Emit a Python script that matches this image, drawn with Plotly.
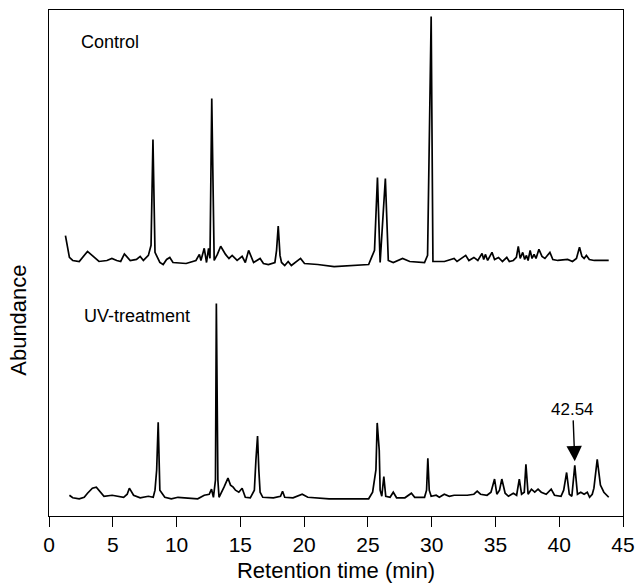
import plotly.graph_objects as go

# Retention time (min) and abundance (arbitrary units)
control_time = [1.29, 1.47, 1.60, 1.86, 2.37, 3.02, 3.53, 3.92, 4.54, 4.93, 5.31, 5.62, 5.91, 6.37, 6.86,
                7.15, 7.40, 7.79, 8.00, 8.15, 8.31, 8.69, 8.95, 9.22, 9.47, 9.72, 10.75, 11.52, 11.79, 11.91,
                12.17, 12.35, 12.51, 12.62, 12.76, 12.95, 13.20, 13.46, 13.84, 14.11, 14.36, 14.75, 15.14,
                15.39, 15.65, 15.85, 16.04, 16.55, 16.81, 17.20, 17.71, 17.84, 17.97, 18.11, 18.23, 18.48,
                18.75, 19.00, 19.72, 20.03, 21.07, 22.35, 25.06, 25.32, 25.52, 25.75, 25.96, 26.37, 26.60,
                26.99, 27.72, 28.28, 29.44, 29.68, 29.96, 30.10, 31.00, 31.76, 31.99, 32.67, 32.92, 33.31,
                33.62, 33.95, 34.08, 34.21, 34.39, 34.73, 34.93, 35.24, 35.55, 35.89, 36.09, 36.40, 36.64,
                36.79, 36.94, 37.14, 37.29, 37.43, 37.56, 37.72, 37.87, 38.03, 38.18, 38.41, 38.65, 38.88,
                39.27, 39.50, 39.89, 40.66, 41.04, 41.35, 41.59, 41.78, 41.95, 42.13, 42.36, 42.75, 43.88]
control_abund = [8.4, 5.9, 4.1, 3.5, 3.3, 5.3, 4.1, 3.3, 3.5, 3.9, 3.5, 3.3, 4.8, 3.5, 3.7,
                 4.3, 3.5, 4.5, 6.5, 27.4, 5.1, 3.1, 2.7, 3.7, 4.1, 3.1, 2.9, 3.5, 4.7, 3.5,
                 5.9, 3.1, 5.9, 3.9, 35.5, 3.5, 4.7, 6.3, 4.7, 3.9, 4.5, 3.5, 4.3,
                 3.1, 5.5, 4.1, 3.1, 3.9, 2.9, 2.7, 3.1, 5.5, 10.3, 4.5, 3.1, 2.5,
                 3.3, 2.5, 3.9, 2.9, 2.7, 2.3, 2.7, 4.3, 5.5, 19.9, 3.1, 19.7, 3.5,
                 3.1, 3.9, 3.3, 3.1, 4.5, 51.7, 3.3, 3.3, 3.9, 3.3, 4.5, 3.5, 4.1,
                 3.5, 4.9, 3.7, 4.7, 3.5, 5.1, 3.7, 4.1, 3.3, 4.1, 3.3, 3.5, 4.1,
                 6.3, 3.9, 5.1, 3.7, 4.5, 3.5, 5.5, 3.9, 4.7, 3.9, 5.7, 4.3, 3.9,
                 5.1, 3.7, 3.5, 3.7, 3.3, 3.9, 6.1, 4.3, 3.9, 4.5, 3.7, 3.5, 3.5]

uv_time = [1.60, 1.86, 2.37, 2.76, 3.02, 3.40, 3.71, 4.05, 4.31, 4.95, 5.47, 5.85, 6.13, 6.30, 6.63,
           7.15, 7.79, 8.17, 8.31, 8.44, 8.56, 8.69, 9.08, 9.59, 10.11, 10.63, 11.66, 12.17, 12.56, 12.74,
           12.89, 13.05, 13.12, 13.24, 13.33, 13.72, 14.03, 14.23, 14.44, 14.62, 14.88, 15.14, 15.39,
           15.78, 16.10, 16.22, 16.35, 16.45, 16.55, 16.76, 17.59, 18.15, 18.31, 18.48, 19.13, 19.85,
           20.29, 21.96, 25.06, 25.37, 25.63, 25.73, 25.89, 25.96, 26.09, 26.25, 26.40, 26.74, 26.99,
           27.25, 27.90, 28.41, 28.67, 29.44, 29.60, 29.70, 29.81, 29.96, 30.35, 30.60, 30.99, 31.38,
           31.76, 32.79, 33.31, 33.57, 33.83, 34.34, 34.65, 34.93, 35.11, 35.32, 35.50, 35.76, 36.02,
           36.40, 36.66, 36.87, 37.05, 37.26, 37.39, 37.56, 37.82, 38.08, 38.34, 38.59, 38.98, 39.37,
           39.63, 40.14, 40.35, 40.58, 40.79, 40.99, 41.22, 41.43, 41.69, 41.95, 42.20, 42.38, 42.59,
           42.72, 42.86, 42.98, 43.23, 43.50, 43.88]
uv_abund = [4.1, 3.6, 3.4, 3.7, 4.5, 5.5, 5.7, 4.7, 3.9, 4.1, 3.9, 3.7, 4.3, 5.5, 4.1,
            3.6, 3.9, 3.7, 5.1, 9.1, 18.5, 5.1, 3.7, 3.4, 3.7, 3.6, 3.4, 4.1, 4.3, 5.3,
            3.7, 7.1, 42.0, 7.1, 3.7, 5.7, 7.5, 6.1, 5.7, 5.1, 4.7, 5.5, 3.7,
            3.6, 5.1, 11.0, 15.8, 9.1, 4.7, 3.7, 3.6, 3.9, 4.9, 3.7, 3.6, 4.3,
            3.7, 3.4, 3.4, 4.7, 9.1, 18.4, 13.0, 5.1, 3.9, 7.8, 3.9, 3.7, 4.7,
            3.6, 3.6, 4.5, 3.7, 3.7, 5.1, 11.4, 5.1, 3.9, 4.1, 3.7, 4.3, 3.9,
            4.1, 4.1, 4.3, 4.9, 4.3, 4.1, 4.7, 7.3, 4.3, 5.1, 7.3, 4.5, 3.9,
            4.5, 4.1, 7.3, 4.3, 4.7, 10.2, 4.3, 5.3, 4.7, 5.3, 4.7, 4.3, 5.3,
            4.1, 3.9, 5.1, 8.6, 4.3, 3.9, 10.0, 4.3, 4.7, 4.3, 4.7, 3.7, 4.3,
            5.5, 9.1, 11.2, 6.1, 4.7, 3.7]

x_ticks = [0, 5, 10, 15, 20, 25, 30, 35, 40, 45]
trace_labels = ["Control", "UV-treatment"]
marked_peak_time = 41.22
marked_peak_label = "42.54"

CONTROL_OFFSET = 47.0   # vertical stacking offset of the control trace
UV_OFFSET = 0.0

FONT = "Liberation Sans, Arial, sans-serif"

fig = go.Figure()
fig.add_trace(go.Scatter(x=control_time, y=[v + CONTROL_OFFSET for v in control_abund],
                         mode="lines", line=dict(color="black", width=1.7), name=trace_labels[0]))
fig.add_trace(go.Scatter(x=uv_time, y=[v + UV_OFFSET for v in uv_abund],
                         mode="lines", line=dict(color="black", width=1.7), name=trace_labels[1]))

marked_y = uv_abund[uv_time.index(marked_peak_time)] + UV_OFFSET

fig.update_layout(
    width=644, height=588,
    margin=dict(l=49, r=12, t=9, b=72),
    paper_bgcolor="white", plot_bgcolor="white",
    showlegend=False,
    font=dict(family=FONT, color="black"),
    xaxis=dict(range=[0, 45], tickvals=x_ticks, ticks="outside", ticklen=10, tickwidth=1.2,
               tickcolor="black", showline=True, linecolor="black", linewidth=1.2, mirror=True,
               showgrid=False, zeroline=False, tickfont=dict(size=21, family=FONT),
               title=dict(text="Retention time (min)", font=dict(size=22, family=FONT), standoff=7)),
    yaxis=dict(range=[0, 100], showticklabels=False, ticks="", showline=True, linecolor="black",
               linewidth=1.2, mirror=True, showgrid=False, zeroline=False),
    annotations=[
        dict(x=2.37, y=93.7, xref="x", yref="y", text=trace_labels[0], showarrow=False,
             xanchor="left", yanchor="middle", font=dict(size=18, family=FONT)),
        dict(x=2.61, y=39.6, xref="x", yref="y", text=trace_labels[1], showarrow=False,
             xanchor="left", yanchor="middle", font=dict(size=18, family=FONT)),
        dict(x=marked_peak_time, y=marked_y + 0.8, xref="x", yref="y", text=marked_peak_label,
             showarrow=True, arrowhead=2, arrowsize=2.2, arrowwidth=1.4, arrowcolor="black",
             ax=-2, ay=-52, font=dict(size=17, family=FONT)),
        dict(x=-0.053, y=0.387, xref="paper", yref="paper", text="Abundance", showarrow=False,
             textangle=-90, xanchor="center", yanchor="middle", font=dict(size=22, family=FONT)),
    ],
)

fig.write_html("out.html")
